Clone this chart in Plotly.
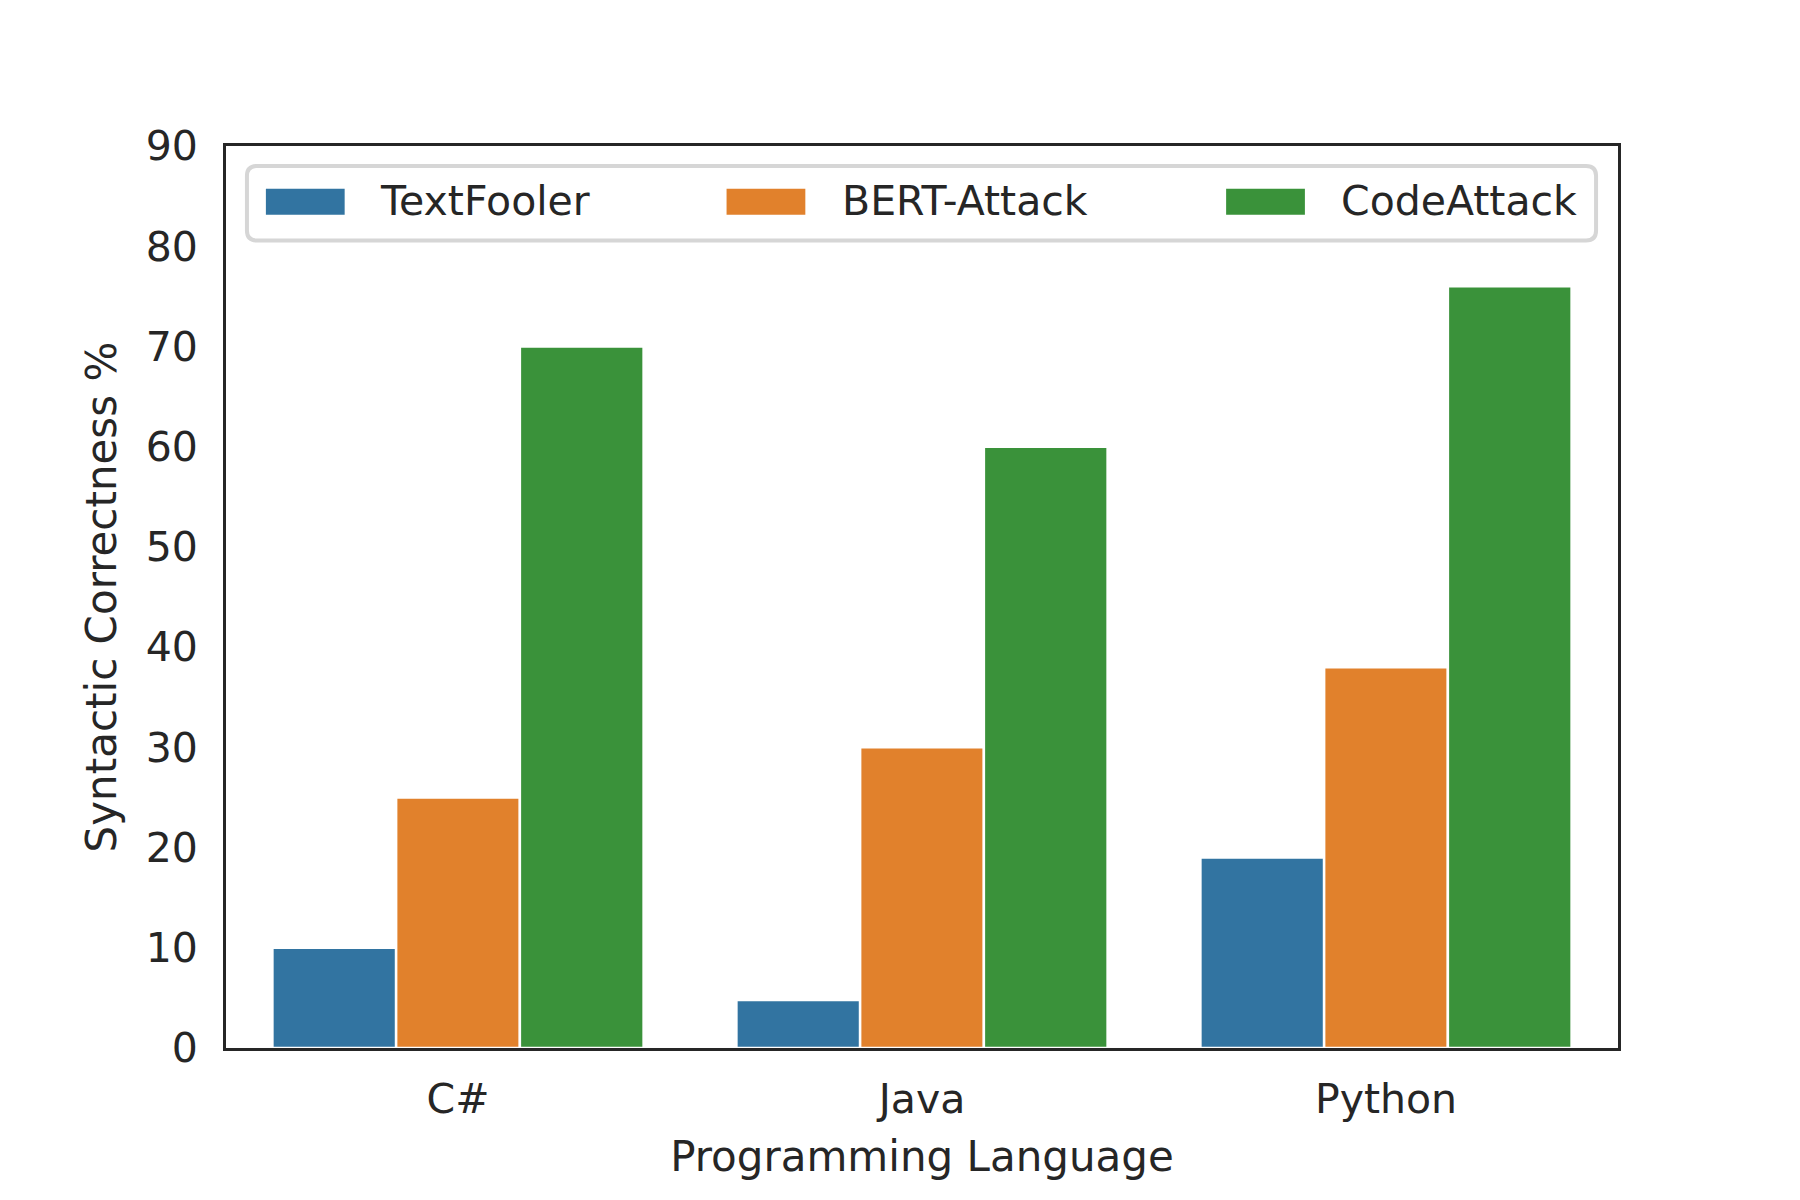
import plotly.graph_objects as go

languages = ["C#", "Java", "Python"]
textfooler = [10, 4.8, 19]
bert_attack = [25, 30, 38]
code_attack = [70, 60, 76]
y_ticks = [0, 10, 20, 30, 40, 50, 60, 70, 80, 90]

font_family = "DejaVu Sans"
text_color = "#262626"

traces = [
    ("TextFooler", textfooler, "#3274a1"),
    ("BERT-Attack", bert_attack, "#e1812c"),
    ("CodeAttack", code_attack, "#3a923a"),
]

fig = go.Figure()
for name, vals, color in traces:
    fig.add_trace(go.Bar(
        x=languages,
        y=vals,
        name=name,
        showlegend=False,
        marker=dict(color=color, line=dict(color="white", width=2.5)),
    ))

# matplotlib-style legend box (wide patches, rounded frame), in paper coords
W, H = 1396.0, 906.0     # plot area size in px


def px(dx):
    return dx / W


def py(dy):
    return 1 - dy / H


x0, x1 = px(21), px(1374)
y0, y1 = py(95), py(20)
rx, ry = px(10), 10 / H
frame = (f"M {x0+rx},{y1} L {x1-rx},{y1} Q {x1},{y1} {x1},{y1-ry} "
         f"L {x1},{y0+ry} Q {x1},{y0} {x1-rx},{y0} L {x0+rx},{y0} "
         f"Q {x0},{y0} {x0},{y0+ry} L {x0},{y1-ry} Q {x0},{y1} {x0+rx},{y1} Z")
fig.add_shape(type="path", path=frame, xref="paper", yref="paper",
              line=dict(color="#d6d6d6", width=4),
              fillcolor="rgba(255,255,255,0.8)")

patch_left = [40, 502, 1003]
text_left = [152, 616, 1116]
for (name, vals, color), pl, tl in zip(traces, patch_left, text_left):
    fig.add_shape(type="rect", xref="paper", yref="paper",
                  x0=px(pl), x1=px(pl + 79), y0=py(69), y1=py(43),
                  fillcolor=color, line=dict(width=0))
    fig.add_annotation(text=name, xref="paper", yref="paper",
                       x=px(tl), y=py(55), xanchor="left", yanchor="middle",
                       showarrow=False, font=dict(size=41, color=text_color))

fig.update_layout(
    width=1800,
    height=1200,
    barmode="group",
    bargap=0.2,
    bargroupgap=0,
    plot_bgcolor="white",
    paper_bgcolor="white",
    showlegend=False,
    font=dict(family=font_family, size=42, color=text_color),
    margin=dict(l=218, r=190, t=138, b=160),
    xaxis=dict(
        title=dict(text="Programming Language", standoff=20, font=dict(size=42)),
        range=[-0.5, 2.5],
        showline=True, linecolor=text_color, linewidth=3, mirror=True,
        showgrid=False, ticks="", ticklabelstandoff=13,
        tickfont=dict(size=41),
    ),
    yaxis=dict(
        title=dict(text="Syntactic Correctness %", standoff=16, font=dict(size=42)),
        range=[0, 90],
        tickvals=y_ticks,
        showline=True, linecolor=text_color, linewidth=3, mirror=True,
        showgrid=False, zeroline=False, ticks="", ticklabelstandoff=17,
        tickfont=dict(size=41),
    ),
)

fig.write_html("out.html")
